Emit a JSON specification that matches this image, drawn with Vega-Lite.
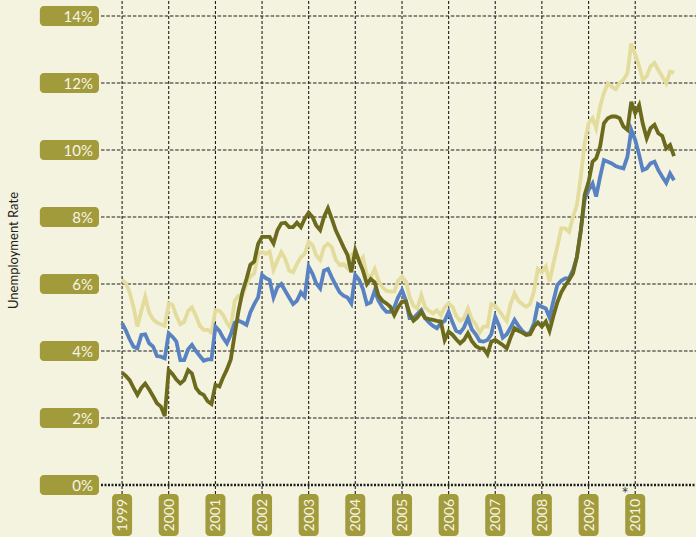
{
  "$schema": "https://vega.github.io/schema/vega-lite/v6.json",
  "width": 696,
  "height": 537,
  "autosize": "none",
  "padding": 0,
  "background": "#f4f3df",
  "config": {"view": {"stroke": null}, "text": {"font": "Lato"}},
  "datasets": {
    "u": [
      {"d":"1999-01","s1":6.12,"s2":4.83,"s3":3.35},
      {"d":"1999-02","s1":6.02,"s2":4.6,"s3":3.25},
      {"d":"1999-03","s1":5.75,"s2":4.35,"s3":3.13},
      {"d":"1999-04","s1":5.3,"s2":4.13,"s3":2.9},
      {"d":"1999-05","s1":4.73,"s2":4.08,"s3":2.69},
      {"d":"1999-06","s1":5.2,"s2":4.48,"s3":2.9},
      {"d":"1999-07","s1":5.62,"s2":4.5,"s3":3.03},
      {"d":"1999-08","s1":5.15,"s2":4.23,"s3":2.85},
      {"d":"1999-09","s1":4.95,"s2":4.13,"s3":2.65},
      {"d":"1999-10","s1":4.85,"s2":3.85,"s3":2.44},
      {"d":"1999-11","s1":4.8,"s2":3.83,"s3":2.34},
      {"d":"1999-12","s1":4.75,"s2":3.78,"s3":2.06},
      {"d":"2000-01","s1":5.42,"s2":4.53,"s3":3.43},
      {"d":"2000-02","s1":5.37,"s2":4.42,"s3":3.31},
      {"d":"2000-03","s1":5.05,"s2":4.28,"s3":3.15},
      {"d":"2000-04","s1":4.8,"s2":3.73,"s3":3.03},
      {"d":"2000-05","s1":4.87,"s2":3.73,"s3":3.13},
      {"d":"2000-06","s1":5.2,"s2":4.05,"s3":3.43},
      {"d":"2000-07","s1":5.3,"s2":4.18,"s3":3.33},
      {"d":"2000-08","s1":5.05,"s2":4.0,"s3":2.9},
      {"d":"2000-09","s1":4.75,"s2":3.85,"s3":2.75},
      {"d":"2000-10","s1":4.63,"s2":3.71,"s3":2.69},
      {"d":"2000-11","s1":4.63,"s2":3.75,"s3":2.5},
      {"d":"2000-12","s1":4.55,"s2":3.75,"s3":2.42},
      {"d":"2001-01","s1":5.22,"s2":4.73,"s3":2.99},
      {"d":"2001-02","s1":5.2,"s2":4.6,"s3":2.94},
      {"d":"2001-03","s1":5.07,"s2":4.4,"s3":3.2},
      {"d":"2001-04","s1":4.85,"s2":4.23,"s3":3.45},
      {"d":"2001-05","s1":4.68,"s2":4.5,"s3":3.75},
      {"d":"2001-06","s1":5.5,"s2":4.85,"s3":4.5},
      {"d":"2001-07","s1":5.65,"s2":4.9,"s3":5.2},
      {"d":"2001-08","s1":5.67,"s2":4.85,"s3":5.77},
      {"d":"2001-09","s1":6.0,"s2":4.78,"s3":6.15},
      {"d":"2001-10","s1":6.22,"s2":5.15,"s3":6.57},
      {"d":"2001-11","s1":6.32,"s2":5.4,"s3":6.67},
      {"d":"2001-12","s1":6.9,"s2":5.6,"s3":7.2},
      {"d":"2002-01","s1":6.95,"s2":6.27,"s3":7.41},
      {"d":"2002-02","s1":6.9,"s2":6.17,"s3":7.41},
      {"d":"2002-03","s1":6.97,"s2":6.12,"s3":7.41},
      {"d":"2002-04","s1":6.42,"s2":5.6,"s3":7.21},
      {"d":"2002-05","s1":6.7,"s2":5.9,"s3":7.6},
      {"d":"2002-06","s1":6.95,"s2":6.0,"s3":7.81},
      {"d":"2002-07","s1":6.75,"s2":5.8,"s3":7.83},
      {"d":"2002-08","s1":6.4,"s2":5.6,"s3":7.7},
      {"d":"2002-09","s1":6.35,"s2":5.4,"s3":7.7},
      {"d":"2002-10","s1":6.6,"s2":5.5,"s3":7.83},
      {"d":"2002-11","s1":6.8,"s2":5.75,"s3":7.7},
      {"d":"2002-12","s1":6.9,"s2":5.62,"s3":7.95},
      {"d":"2003-01","s1":7.26,"s2":6.52,"s3":8.13},
      {"d":"2003-02","s1":7.16,"s2":6.3,"s3":7.99},
      {"d":"2003-03","s1":6.85,"s2":6.02,"s3":7.75},
      {"d":"2003-04","s1":6.72,"s2":5.87,"s3":7.61},
      {"d":"2003-05","s1":7.1,"s2":6.4,"s3":8.0},
      {"d":"2003-06","s1":7.2,"s2":6.45,"s3":8.26},
      {"d":"2003-07","s1":7.1,"s2":6.2,"s3":7.95},
      {"d":"2003-08","s1":6.72,"s2":5.97,"s3":7.6},
      {"d":"2003-09","s1":6.57,"s2":5.75,"s3":7.35},
      {"d":"2003-10","s1":6.6,"s2":5.65,"s3":7.1},
      {"d":"2003-11","s1":6.47,"s2":5.6,"s3":6.87},
      {"d":"2003-12","s1":6.87,"s2":5.42,"s3":6.35},
      {"d":"2004-01","s1":6.97,"s2":6.27,"s3":7.01},
      {"d":"2004-02","s1":6.67,"s2":6.12,"s3":6.67},
      {"d":"2004-03","s1":6.8,"s2":5.85,"s3":6.4},
      {"d":"2004-04","s1":6.27,"s2":5.4,"s3":6.0},
      {"d":"2004-05","s1":6.2,"s2":5.45,"s3":6.15},
      {"d":"2004-06","s1":6.45,"s2":5.8,"s3":6.05},
      {"d":"2004-07","s1":6.1,"s2":5.5,"s3":5.65},
      {"d":"2004-08","s1":5.9,"s2":5.3,"s3":5.5},
      {"d":"2004-09","s1":5.8,"s2":5.17,"s3":5.42},
      {"d":"2004-10","s1":5.77,"s2":5.17,"s3":5.32},
      {"d":"2004-11","s1":5.77,"s2":5.3,"s3":5.07},
      {"d":"2004-12","s1":6.1,"s2":5.6,"s3":5.3},
      {"d":"2005-01","s1":6.22,"s2":5.82,"s3":5.47},
      {"d":"2005-02","s1":6.07,"s2":5.5,"s3":5.47},
      {"d":"2005-03","s1":5.62,"s2":4.98,"s3":5.12},
      {"d":"2005-04","s1":5.35,"s2":4.98,"s3":4.9},
      {"d":"2005-05","s1":5.27,"s2":5.1,"s3":5.0},
      {"d":"2005-06","s1":5.67,"s2":5.22,"s3":5.17},
      {"d":"2005-07","s1":5.3,"s2":4.98,"s3":4.98},
      {"d":"2005-08","s1":5.2,"s2":4.85,"s3":4.95},
      {"d":"2005-09","s1":5.12,"s2":4.75,"s3":4.93},
      {"d":"2005-10","s1":5.22,"s2":4.68,"s3":4.9},
      {"d":"2005-11","s1":5.07,"s2":4.83,"s3":4.88},
      {"d":"2005-12","s1":5.3,"s2":4.9,"s3":4.33},
      {"d":"2006-01","s1":5.42,"s2":5.17,"s3":4.58},
      {"d":"2006-02","s1":5.32,"s2":4.85,"s3":4.48},
      {"d":"2006-03","s1":5.05,"s2":4.6,"s3":4.35},
      {"d":"2006-04","s1":4.9,"s2":4.55,"s3":4.23},
      {"d":"2006-05","s1":4.98,"s2":4.7,"s3":4.33},
      {"d":"2006-06","s1":5.27,"s2":4.98,"s3":4.53},
      {"d":"2006-07","s1":4.95,"s2":4.65,"s3":4.3},
      {"d":"2006-08","s1":4.8,"s2":4.5,"s3":4.15},
      {"d":"2006-09","s1":4.55,"s2":4.3,"s3":4.08},
      {"d":"2006-10","s1":4.73,"s2":4.28,"s3":4.08},
      {"d":"2006-11","s1":4.73,"s2":4.33,"s3":3.9},
      {"d":"2006-12","s1":5.4,"s2":4.5,"s3":4.28},
      {"d":"2007-01","s1":5.35,"s2":5.02,"s3":4.33},
      {"d":"2007-02","s1":5.2,"s2":4.75,"s3":4.25},
      {"d":"2007-03","s1":5.05,"s2":4.4,"s3":4.18},
      {"d":"2007-04","s1":4.9,"s2":4.5,"s3":4.08},
      {"d":"2007-05","s1":5.4,"s2":4.7,"s3":4.4},
      {"d":"2007-06","s1":5.72,"s2":4.93,"s3":4.68},
      {"d":"2007-07","s1":5.5,"s2":4.75,"s3":4.6},
      {"d":"2007-08","s1":5.4,"s2":4.6,"s3":4.55},
      {"d":"2007-09","s1":5.32,"s2":4.5,"s3":4.48},
      {"d":"2007-10","s1":5.4,"s2":4.55,"s3":4.5},
      {"d":"2007-11","s1":5.8,"s2":4.83,"s3":4.73},
      {"d":"2007-12","s1":6.45,"s2":5.4,"s3":4.85},
      {"d":"2008-01","s1":6.35,"s2":5.32,"s3":4.73},
      {"d":"2008-02","s1":6.52,"s2":5.27,"s3":4.88},
      {"d":"2008-03","s1":6.07,"s2":5.0,"s3":4.6},
      {"d":"2008-04","s1":6.62,"s2":5.5,"s3":5.05},
      {"d":"2008-05","s1":7.11,"s2":5.97,"s3":5.45},
      {"d":"2008-06","s1":7.66,"s2":6.1,"s3":5.75},
      {"d":"2008-07","s1":7.66,"s2":6.17,"s3":5.95},
      {"d":"2008-08","s1":7.56,"s2":6.17,"s3":6.12},
      {"d":"2008-09","s1":8.0,"s2":6.42,"s3":6.32},
      {"d":"2008-10","s1":8.35,"s2":6.8,"s3":6.8},
      {"d":"2008-11","s1":9.2,"s2":7.6,"s3":7.6},
      {"d":"2008-12","s1":10.2,"s2":8.51,"s3":8.66},
      {"d":"2009-01","s1":10.8,"s2":8.81,"s3":9.05},
      {"d":"2009-02","s1":10.95,"s2":9.0,"s3":9.65},
      {"d":"2009-03","s1":10.65,"s2":8.61,"s3":9.75},
      {"d":"2009-04","s1":11.3,"s2":9.2,"s3":10.1},
      {"d":"2009-05","s1":11.7,"s2":9.7,"s3":10.8},
      {"d":"2009-06","s1":11.99,"s2":9.65,"s3":10.95},
      {"d":"2009-07","s1":11.89,"s2":9.6,"s3":11.0},
      {"d":"2009-08","s1":11.81,"s2":9.52,"s3":11.0},
      {"d":"2009-09","s1":12.0,"s2":9.48,"s3":10.95},
      {"d":"2009-10","s1":12.1,"s2":9.45,"s3":10.7},
      {"d":"2009-11","s1":12.29,"s2":9.8,"s3":10.6},
      {"d":"2009-12","s1":13.18,"s2":10.6,"s3":11.44},
      {"d":"2010-01","s1":12.85,"s2":10.3,"s3":11.1},
      {"d":"2010-02","s1":12.5,"s2":9.85,"s3":11.34},
      {"d":"2010-03","s1":12.1,"s2":9.4,"s3":10.79},
      {"d":"2010-04","s1":12.2,"s2":9.45,"s3":10.35},
      {"d":"2010-05","s1":12.5,"s2":9.6,"s3":10.65},
      {"d":"2010-06","s1":12.6,"s2":9.65,"s3":10.75},
      {"d":"2010-07","s1":12.39,"s2":9.4,"s3":10.5},
      {"d":"2010-08","s1":12.19,"s2":9.2,"s3":10.42},
      {"d":"2010-09","s1":11.99,"s2":9.02,"s3":10.05},
      {"d":"2010-10","s1":12.34,"s2":9.3,"s3":10.15},
      {"d":"2010-11","s1":12.31,"s2":9.1,"s3":9.82}
    ],
    "yt": [
      {"v":0,"label":"0%"},{"v":2,"label":"2%"},{"v":4,"label":"4%"},{"v":6,"label":"6%"},
      {"v":8,"label":"8%"},{"v":10,"label":"10%"},{"v":12,"label":"12%"},{"v":14,"label":"14%"}
    ],
    "xt": [
      {"d":"1999-01-01","label":"1999"},{"d":"2000-01-01","label":"2000"},{"d":"2001-01-01","label":"2001"},
      {"d":"2002-01-01","label":"2002"},{"d":"2003-01-01","label":"2003"},{"d":"2004-01-01","label":"2004"},
      {"d":"2005-01-01","label":"2005"},{"d":"2006-01-01","label":"2006"},{"d":"2007-01-01","label":"2007"},
      {"d":"2008-01-01","label":"2008"},{"d":"2009-01-01","label":"2009"},{"d":"2010-01-01","label":"2010"}
    ]
  },
  "layer": [
    {
      "data": {"name": "xt"},
      "mark": {"type": "rule", "stroke": "#1e1e1e", "strokeWidth": 1.1, "strokeDash": [3, 2]},
      "encoding": {
        "x": {"field": "d", "type": "temporal", "axis": null, "scale": {"type": "time", "domain": [{"year":1996,"month":5,"date":20,"utc":true},{"year":2011,"month":4,"date":22,"utc":true}]}},
        "y": {"datum": -0.27, "type": "quantitative", "axis": null, "scale": {"domain": [-1.552, 14.478], "nice": false, "zero": false}},
        "y2": {"datum": 14.6}
      }
    },
    {
      "data": {"name": "yt"},
      "transform": [{"filter": "datum.v > 0"}],
      "mark": {"type": "rule", "stroke": "#1e1e1e", "strokeWidth": 1.1, "strokeDash": [3.5, 1.8]},
      "encoding": {
        "x": {"datum": {"year":1998,"month":7,"date":20,"utc":true}, "type": "temporal", "axis": null, "scale": {"type": "time", "domain": [{"year":1996,"month":5,"date":20,"utc":true},{"year":2011,"month":4,"date":22,"utc":true}]}},
        "x2": {"datum": {"year":2011,"month":4,"date":22,"utc":true}},
        "y": {"field": "v", "type": "quantitative", "axis": null, "scale": {"domain": [-1.552, 14.478], "nice": false, "zero": false}}
      }
    },
    {
      "data": {"name": "yt"},
      "transform": [{"filter": "datum.v == 0"}],
      "mark": {"type": "rule", "stroke": "#1e1e1e", "strokeWidth": 2.5, "strokeDash": [2, 1.5]},
      "encoding": {
        "x": {"datum": {"year":1998,"month":7,"date":20,"utc":true}, "type": "temporal", "axis": null, "scale": {"type": "time", "domain": [{"year":1996,"month":5,"date":20,"utc":true},{"year":2011,"month":4,"date":22,"utc":true}]}},
        "x2": {"datum": {"year":2011,"month":4,"date":22,"utc":true}},
        "y": {"field": "v", "type": "quantitative", "axis": null, "scale": {"domain": [-1.552, 14.478], "nice": false, "zero": false}}
      }
    },
    {
      "data": {"name": "u"},
      "mark": {"type": "line", "stroke": "#e3dc9d", "strokeWidth": 3.8},
      "encoding": {
        "x": {"field": "d", "type": "temporal", "axis": null, "scale": {"type": "time", "domain": [{"year":1996,"month":5,"date":20,"utc":true},{"year":2011,"month":4,"date":22,"utc":true}]}},
        "y": {"field": "s1", "type": "quantitative", "axis": null, "scale": {"domain": [-1.552, 14.478], "nice": false, "zero": false}}
      }
    },
    {
      "data": {"name": "u"},
      "mark": {"type": "line", "stroke": "#5882c1", "strokeWidth": 3.8},
      "encoding": {
        "x": {"field": "d", "type": "temporal", "axis": null, "scale": {"type": "time", "domain": [{"year":1996,"month":5,"date":20,"utc":true},{"year":2011,"month":4,"date":22,"utc":true}]}},
        "y": {"field": "s2", "type": "quantitative", "axis": null, "scale": {"domain": [-1.552, 14.478], "nice": false, "zero": false}}
      }
    },
    {
      "data": {"name": "u"},
      "mark": {"type": "line", "stroke": "#6b6a1d", "strokeWidth": 3.8},
      "encoding": {
        "x": {"field": "d", "type": "temporal", "axis": null, "scale": {"type": "time", "domain": [{"year":1996,"month":5,"date":20,"utc":true},{"year":2011,"month":4,"date":22,"utc":true}]}},
        "y": {"field": "s3", "type": "quantitative", "axis": null, "scale": {"domain": [-1.552, 14.478], "nice": false, "zero": false}}
      }
    },
    {
      "data": {"name": "yt"},
      "mark": {"type": "rect", "fill": "#a29b3b", "cornerRadius": 4, "yOffset": -10, "y2Offset": 10},
      "encoding": {
        "x": {"datum": {"year":1997,"month":3,"date":28,"utc":true}, "type": "temporal", "axis": null, "scale": {"type": "time", "domain": [{"year":1996,"month":5,"date":20,"utc":true},{"year":2011,"month":4,"date":22,"utc":true}]}},
        "x2": {"datum": {"year":1998,"month":7,"date":4,"utc":true}},
        "y": {"field": "v", "type": "quantitative", "axis": null, "scale": {"domain": [-1.552, 14.478], "nice": false, "zero": false}},
        "y2": {"field": "v"}
      }
    },
    {
      "data": {"name": "yt"},
      "mark": {"type": "text", "fill": "#f7f5e6", "fontSize": 15, "align": "right", "baseline": "middle", "dy": 1},
      "encoding": {
        "x": {"datum": {"year":1998,"month":5,"date":18,"utc":true}, "type": "temporal", "axis": null, "scale": {"type": "time", "domain": [{"year":1996,"month":5,"date":20,"utc":true},{"year":2011,"month":4,"date":22,"utc":true}]}},
        "y": {"field": "v", "type": "quantitative", "axis": null, "scale": {"domain": [-1.552, 14.478], "nice": false, "zero": false}},
        "text": {"field": "label"}
      }
    },
    {
      "data": {"name": "xt"},
      "mark": {"type": "rect", "fill": "#a29b3b", "cornerRadius": 4, "xOffset": -10, "x2Offset": 10},
      "encoding": {
        "x": {"field": "d", "type": "temporal", "axis": null, "scale": {"type": "time", "domain": [{"year":1996,"month":5,"date":20,"utc":true},{"year":2011,"month":4,"date":22,"utc":true}]}},
        "x2": {"field": "d"},
        "y": {"datum": -0.27, "type": "quantitative", "axis": null, "scale": {"domain": [-1.552, 14.478], "nice": false, "zero": false}},
        "y2": {"datum": -1.52}
      }
    },
    {
      "data": {"name": "xt"},
      "mark": {"type": "text", "fill": "#f7f5e6", "fontSize": 14, "angle": 270, "align": "center", "baseline": "middle", "dy": 1},
      "encoding": {
        "x": {"field": "d", "type": "temporal", "axis": null, "scale": {"type": "time", "domain": [{"year":1996,"month":5,"date":20,"utc":true},{"year":2011,"month":4,"date":22,"utc":true}]}},
        "y": {"datum": -0.9, "type": "quantitative", "axis": null, "scale": {"domain": [-1.552, 14.478], "nice": false, "zero": false}},
        "text": {"field": "label"}
      }
    },
    {
      "data": {"values": [{"note": "*", "d": "2009-10-13"}]},
      "mark": {"type": "text", "fill": "#444444", "fontSize": 17, "align": "center", "baseline": "middle"},
      "encoding": {
        "x": {"field": "d", "type": "temporal", "axis": null, "scale": {"type": "time", "domain": [{"year":1996,"month":5,"date":20,"utc":true},{"year":2011,"month":4,"date":22,"utc":true}]}},
        "y": {"datum": -0.3, "type": "quantitative", "axis": null, "scale": {"domain": [-1.552, 14.478], "nice": false, "zero": false}},
        "text": {"field": "note"}
      }
    },
    {
      "data": {"values": [{"title": "Unemployment Rate", "d": "1996-09-07"}]},
      "mark": {"type": "text", "fill": "#222222", "fontSize": 13, "angle": 270, "align": "center", "baseline": "middle"},
      "encoding": {
        "x": {"field": "d", "type": "temporal", "axis": null, "scale": {"type": "time", "domain": [{"year":1996,"month":5,"date":20,"utc":true},{"year":2011,"month":4,"date":22,"utc":true}]}},
        "y": {"datum": 7.0, "type": "quantitative", "axis": null, "scale": {"domain": [-1.552, 14.478], "nice": false, "zero": false}},
        "text": {"field": "title"}
      }
    }
  ]
}
